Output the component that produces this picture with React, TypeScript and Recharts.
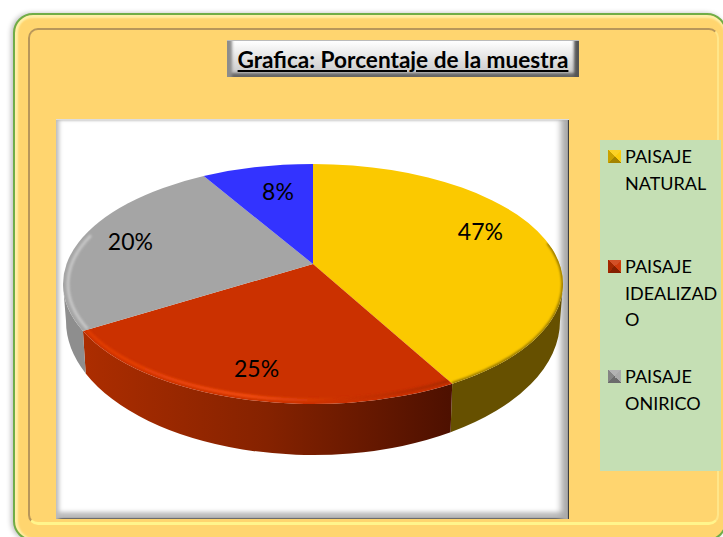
import { Legend, Pie, PieChart } from "recharts";

const categories = ["PAISAJE NATURAL", "PAISAJE IDEALIZADO", "PAISAJE ONIRICO", ""];
// the printed percentages do not agree with the wedges in the source picture,
// so the wedge sizes are measured from the drawing and the labels are kept as printed
const sliceSizes = [40.6, 28, 24.2, 7.2];
const printedLabels = ["47%", "25%", "20%", "8%"];
const colors = ["#FBC900", "#CB3100", "#A5A5A5", "#3333FF"];

const data = categories.map((name, i) => ({ name, value: sliceSizes[i], fill: colors[i] }));

const FONT = "Lato, 'Open Sans', sans-serif";

// fake 3d: fractions of the pie radius
const RIM_RY = 0.48;
const RIM_DROP = 0.08;
const BASE_RX = 0.988;
const BASE_RY = 0.536;
const BASE_DROP = 0.228;

const wallFill = ["#665000", "url(#wallRed)", "#8E8E8E", "#2222AA"];
const rimStroke = ["#8F7200", "url(#rimRed)", "#C6C6C6", "none"];
const rimInset = [0, 4, 5, 0];
const labelNudge = [[-12, -13], [-3, 12], [-7, 3], [7, 9]];

const rad = (d: number) => (d * Math.PI) / 180;

const SliceShape = (props: any) => {
  const { cx, cy, outerRadius: r, startAngle, endAngle, fill, index } = props;
  // recharts angles run counterclockwise from 3 o'clock, t runs clockwise from 12
  const t0 = 90 - startAngle;
  const t1 = 90 - endAngle;
  const rim = (t: number, inset = 0) => [
    cx + (r - inset) * Math.sin(rad(t)),
    cy + r * RIM_DROP - (r * RIM_RY - inset) * Math.cos(rad(t)),
  ];
  const base = (t: number) => [
    cx + r * BASE_RX * Math.sin(rad(t)),
    cy + r * BASE_DROP - r * BASE_RY * Math.cos(rad(t)),
  ];
  const [sx, sy] = rim(t0);
  const [ex, ey] = rim(t1);
  const large = t1 - t0 > 180 ? 1 : 0;
  const top = `M${cx},${cy} L${sx},${sy} A${r},${r * RIM_RY} 0 ${large} 1 ${ex},${ey} Z`;

  const a = Math.max(t0, 90);
  const b = Math.min(t1, 270);
  let wall = null;
  if (b > a) {
    const [ax, ay] = rim(a);
    const [bx, by] = rim(b);
    const [cx2, cy2] = base(b);
    const [dx, dy] = base(a);
    wall = (
      <path
        d={`M${ax},${ay} A${r},${r * RIM_RY} 0 0 1 ${bx},${by} L${cx2},${cy2} A${r * BASE_RX},${r * BASE_RY} 0 0 0 ${dx},${dy} Z`}
        fill={wallFill[index]}
      />
    );
  }
  // soft bevel along the rim, clipped to the top face
  const g0 = Math.max(t0, 70);
  const g1 = Math.min(t1, 295);
  const inset = rimInset[index];
  const clipId = `sliceTop${index}`;
  return (
    <g>
      {wall}
      <path d={top} fill={fill} />
      <clipPath id={clipId}>
        <path d={top} />
      </clipPath>
      {g1 > g0 && (
        <g clipPath={`url(#${clipId})`}>
          <path
            d={`M${rim(g0, inset)[0]},${rim(g0, inset)[1]} A${r - inset},${r * RIM_RY - inset} 0 0 1 ${rim(g1, inset)[0]},${rim(g1, inset)[1]}`}
            fill="none"
            stroke={rimStroke[index]}
            strokeWidth={3}
            filter="url(#softRim)"
          />
        </g>
      )}
    </g>
  );
};

const SliceLabel = (props: any) => {
  const { cx, cy, outerRadius: r, midAngle, index } = props;
  const t = 90 - midAngle;
  const x = cx + 0.75 * r * Math.sin(rad(t)) + labelNudge[index][0];
  const y = cy + 6 - 0.75 * r * RIM_RY * Math.cos(rad(t)) + labelNudge[index][1];
  return (
    <text x={x} y={y} textAnchor="middle" dominantBaseline="central" fontSize={23} fontFamily={FONT} fill="#000">
      {printedLabels[index]}
    </text>
  );
};

const LegendPanel = ({ payload }: any) => (
  <div style={{ position: "relative", width: 121, height: 331, background: "#C5DFB4", fontFamily: FONT, fontSize: 18, lineHeight: "26.5px", color: "#000" }}>
    {(payload || [])
      .filter((p: any) => p.value)
      .map((p: any, i: number) => (
        <div key={p.value} style={{ position: "absolute", left: 25, top: 3 + i * 110, width: 95, wordBreak: "break-all" }}>
          <span
            style={{
              position: "absolute",
              left: -17,
              top: 7,
              width: 13,
              height: 13,
              backgroundColor: p.color,
              backgroundImage:
                "conic-gradient(from -45deg, rgba(255,255,255,0.15) 0 90deg, rgba(255,255,255,0.05) 90deg 180deg, rgba(0,0,0,0.35) 180deg 270deg, rgba(0,0,0,0.2) 270deg 360deg)",
            }}
          />
          {p.value.split(" ").map((w: string) => (
            <div key={w}>{w}</div>
          ))}
        </div>
      ))}
  </div>
);

export default function App() {
  return (
    <div style={{ position: "absolute", left: 0, top: 0, width: 723, height: 537, overflow: "hidden", background: "#fff" }}>
      {/* outer frame */}
      <div
        style={{
          position: "absolute",
          left: 13,
          top: 13,
          width: 714,
          height: 528,
          boxSizing: "border-box",
          borderRadius: 20,
          border: "2px solid #70AD47",
          background: "#FFD56F",
          boxShadow: "-2px 0 5px rgba(0,0,0,0.25), inset 0 3px 2px #FFEFA8, inset 3px 0 2px #FFEFA8",
        }}
      />
      {/* inner frame */}
      <div
        style={{
          position: "absolute",
          left: 28,
          top: 28,
          width: 691,
          height: 497,
          boxSizing: "border-box",
          borderRadius: 10,
          borderTop: "2px solid #B8965A",
          borderLeft: "2px solid #B8965A",
          borderBottom: "3px solid #FFF58C",
          borderRight: "2px solid #FFE68A",
          background: "#FFD56F",
        }}
      />
      {/* plot frame */}
      <div
        style={{
          position: "absolute",
          left: 56,
          top: 119,
          width: 513,
          height: 400,
          boxSizing: "border-box",
          background: "#fff",
          borderTop: "1px solid #ddd",
          boxShadow:
            "inset 6px 0 4px -3px #bbb, inset -2px 0 1px -1px #333, inset -11px 0 6px -3px #aaa, inset 0 -2px 1px -1px #555, inset 0 -10px 4px -3px #bbb, inset 0 2px 2px -1px #ddd",
        }}
      />
      {/* title */}
      <div
        style={{
          position: "absolute",
          left: 227,
          top: 40,
          width: 352,
          height: 37,
          boxSizing: "border-box",
          background: "linear-gradient(#fff, #c4c4c4)",
          borderTop: "1px solid #bbb",
          boxShadow: "inset 8px 0 3px -3px #8c8c8c, inset -8px 0 3px -3px #555, inset 0 -7px 3px -3px #666",
          textAlign: "center",
          fontFamily: FONT,
          fontWeight: 700,
          fontSize: 22.6,
          lineHeight: "37px",
          textDecoration: "underline",
          color: "#000",
          whiteSpace: "nowrap",
        }}
      >
        Grafica: Porcentaje de la muestra
      </div>
      <div style={{ position: "absolute", left: 0, top: 0 }}>
        <PieChart width={723} height={537} margin={{ top: 0, right: 0, bottom: 0, left: 0 }}>
          <defs>
            <linearGradient id="wallRed" gradientUnits="userSpaceOnUse" x1="83" y1="0" x2="452" y2="0">
              <stop offset="0" stopColor="#AC2D00" />
              <stop offset="0.5" stopColor="#852200" />
              <stop offset="1" stopColor="#4D1000" />
            </linearGradient>
            <linearGradient id="rimRed" gradientUnits="userSpaceOnUse" x1="83" y1="0" x2="452" y2="0">
              <stop offset="0" stopColor="#E03A00" />
              <stop offset="0.45" stopColor="#F54E12" />
              <stop offset="0.7" stopColor="#CB3100" />
              <stop offset="1" stopColor="#A82800" />
            </linearGradient>
            <filter id="softRim" x="-10%" y="-10%" width="120%" height="120%">
              <feGaussianBlur stdDeviation="0.8" />
            </filter>
          </defs>
          <Pie
            data={data}
            dataKey="value"
            nameKey="name"
            cx={313}
            cy={264}
            innerRadius={0}
            outerRadius={250}
            startAngle={90}
            endAngle={-270}
            stroke="none"
            shape={SliceShape}
            label={SliceLabel}
            labelLine={false}
            isAnimationActive={false}
          />
          <Legend
            content={LegendPanel}
            itemSorter={null}
            wrapperStyle={{ position: "absolute", left: 600, top: 140, width: 121, height: 331 }}
          />
        </PieChart>
      </div>
    </div>
  );
}
